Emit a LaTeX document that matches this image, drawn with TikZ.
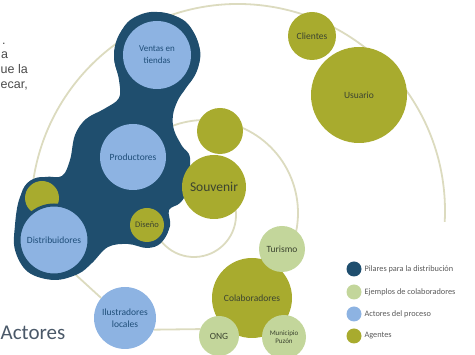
\documentclass[tikz,border=0pt]{standalone}
\usepackage{fontspec}
\setmainfont{Carlito}
\newfontfamily\arialf{Liberation Sans}
\usetikzlibrary{backgrounds}
\definecolor{cDark}{HTML}{1F4E6E}
\definecolor{cLBlue}{HTML}{8DB3E2}
\definecolor{cOlive}{HTML}{A8AB2E}
\definecolor{cLGreen}{HTML}{C3D69B}
\definecolor{cArc}{HTML}{DCDBBF}
\definecolor{cTxtB}{HTML}{1F4E79}
\definecolor{cTxtD}{HTML}{3C4430}
\definecolor{cGrayT}{HTML}{4A4A4A}
\definecolor{cActT}{HTML}{4A5868}
\definecolor{cLegT}{HTML}{5A5A5A}
\begin{document}
\begin{tikzpicture}[x=1pt,y=1pt,
  arcline/.style={draw=cArc, line width=1.8pt},
  bubble/.style={circle, inner sep=0pt, align=center, font=\fontsize{9.5}{11.5}\selectfont},
  actor/.style={bubble, fill=cLBlue, text=cTxtB},
  agent/.style={bubble, fill=cOlive, text=cTxtD},
  colab/.style={bubble, fill=cLGreen, text=cTxtD},
  legdot/.style={circle, inner sep=0pt, minimum size=15pt},
  legtxt/.style={anchor=west, font=\fontsize{8.3}{9}\selectfont, text=cLegT},
  cuttxt/.style={anchor=base west, inner sep=0pt, font=\arialf\fontsize{12.5}{14}\selectfont, text=cGrayT}]
\useasboundingbox (0,0) rectangle (475,-355);

% dark blob (pillars for distribution)
\fill[cDark] plot[smooth cycle, tension=0.6] coordinates {
 (157,-12) (186,-22) (200,-50) (196,-72) (186,-88) (178,-100) (173,-115) (174,-130)
 (182,-146) (190,-158) (187,-190) (180,-203) (169,-210) (170,-226) (161,-243)
 (147,-248) (128,-244) (108,-247) (92,-263) (78,-274) (54,-280) (28,-272)
 (15,-250) (15,-225) (19,-200) (28,-184) (45,-177) (62,-176) (70,-160) (75,-135)
 (86,-119) (104,-109) (119,-98) (119,-80) (114,-55) (122,-30) (135,-17)};
\fill[cDark] (157,-55) circle[radius=43];
\fill[cDark] (54,-240) circle[radius=39];
\fill[cDark] (42,-198) circle[radius=21];
\fill[cDark] (147,-225) circle[radius=22];

% bubbles
\node[actor, minimum size=68pt, font=\fontsize{9}{12}\selectfont] (ventas) at (157,-55) {Ventas en\\tiendas};
\node[actor, minimum size=66pt] (prod) at (133,-157) {Productores};
\node[agent, minimum size=34pt] (olsmall) at (42,-198) {};
\node[actor, minimum size=70pt, draw=cDark, line width=3pt] (dist) at (54,-240) {Distribuidores};
\node[agent, minimum size=34pt, font=\fontsize{8.5}{10}\selectfont] (diseno) at (147,-225) {Diseño};
\node[agent, minimum size=46pt] (oltop) at (220,-131) {};
\node[agent, minimum size=64pt, font=\fontsize{13.5}{15}\selectfont] (souv) at (214,-187) {Souvenir};
\node[agent, minimum size=48pt] (clientes) at (312,-36) {Clientes};
\node[agent, minimum size=96pt] (usuario) at (359,-95) {Usuario};
\node[agent, minimum size=80pt] (colab) at (252,-298) {Colaboradores};
\node[colab, minimum size=46pt] (turismo) at (282,-249) {Turismo};
\node[colab, minimum size=40pt] (ong) at (219,-336) {ONG};
\node[colab, minimum size=44pt, font=\fontsize{7}{8.5}\selectfont] (muni) at (284,-337) {Municipio\\Puzón};
\node[actor, minimum size=62pt] (ilu) at (125,-318) {Ilustradores\\locales};

% arcs and connectors behind everything
\begin{pgfonlayer}{background}
  \draw[arcline] (238,-211) ++(171:207) arc[start angle=171, end angle=-3, radius=207];
  \draw[arcline] (205,-213) ++(115:93) arc[start angle=115, end angle=-20, radius=93];
  \draw[arcline] (194,-215) ++(-150:42) arc[start angle=-150, end angle=10, radius=42];
  \draw[arcline] (dist.-60) -- (ilu.140);
  \draw[arcline] (ilu.-22) -- (ong.160);
\end{pgfonlayer}

% cut-off text at left
\node[cuttxt] (t1) at (2,-45) {.};
\node[cuttxt] (t2) at (1,-59) {a};
\node[cuttxt] (t3) at (0.5,-74) {ue la};
\node[cuttxt] (t4) at (0.5,-89) {ecar,};
\node[anchor=base west, font=\fontsize{21}{24}\selectfont, text=cActT, inner sep=0pt] (actores) at (0.5,-340) {Actores};

% legend
\node[legdot, fill=cDark] (l1) at (354,-269) {};
\node[legtxt] (l1t) at (361,-269) {Pilares para la distribución};
\node[legdot, fill=cLGreen] (l2) at (354,-292) {};
\node[legtxt] (l2t) at (361,-292) {Ejemplos de colaboradores};
\node[legdot, fill=cLBlue] (l3) at (354,-314) {};
\node[legtxt] (l3t) at (361,-314) {Actores del proceso};
\node[legdot, fill=cOlive] (l4) at (354,-336) {};
\node[legtxt] (l4t) at (361,-336) {Agentes};
\end{tikzpicture}
\end{document}
